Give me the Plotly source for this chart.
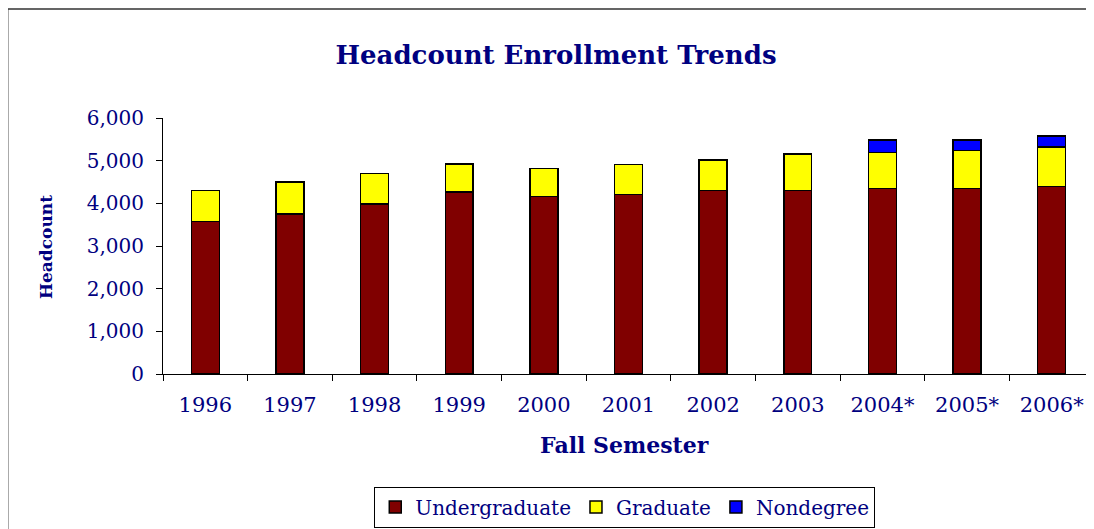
import plotly.graph_objects as go

years = ['1996', '1997', '1998', '1999', '2000', '2001', '2002', '2003', '2004*', '2005*', '2006*']
undergrad = [3570, 3750, 3985, 4265, 4165, 4210, 4305, 4305, 4345, 4345, 4400]
graduate = [730, 750, 710, 655, 655, 705, 705, 850, 845, 890, 920]
nondegree = [0, 0, 0, 0, 0, 0, 0, 0, 290, 245, 260]
y_ticks = [0, 1000, 2000, 3000, 4000, 5000, 6000]

navy = '#000080'
serif = 'DejaVu Serif'

# page body has an 8px margin, so the figure is sized to fit the window
W, H = 1086, 521
L, T, B = 155, 110, 155
PH = H - T - B  # plot height in px

fig = go.Figure()
for name, vals, color in [('Undergraduate', undergrad, '#800000'),
                          ('Graduate', graduate, '#FFFF00'),
                          ('Nondegree', nondegree, '#0000FF')]:
    fig.add_trace(go.Bar(x=years, y=vals, name=name,
                         marker=dict(color=color, line=dict(color='black', width=1.5))))

fig.update_layout(
    barmode='stack',
    bargap=0.67,
    width=W, height=H,
    autosize=False,
    margin=dict(l=L, r=0, t=T, b=B, autoexpand=False),
    plot_bgcolor='white',
    paper_bgcolor='white',
    font=dict(family=serif, color=navy),
    title=dict(text='<b>Headcount Enrollment Trends</b>', x=548/W, xanchor='center',
               y=1 - 47/H, yanchor='middle', xref='container', yref='container',
               font=dict(family=serif, size=26, color=navy)),
    xaxis=dict(showline=True, linecolor='black', linewidth=1, showgrid=False,
               ticks='outside', ticklen=6, tickcolor='black', tickson='boundaries',
               tickfont=dict(family=serif, size=21, color=navy),
               ticklabelstandoff=12),
    yaxis=dict(range=[0, 6000], tickvals=y_ticks, tickformat=',', showline=True,
               linecolor='black', linewidth=1, showgrid=False, zeroline=False,
               ticks='outside', ticklen=6, tickcolor='black',
               tickfont=dict(family=serif, size=20, color=navy),
               ticklabelstandoff=8),
    legend=dict(orientation='h', x=0.496, xanchor='center', y=-0.52, yanchor='middle',
                bordercolor='black', borderwidth=1, bgcolor='white',
                font=dict(family=serif, size=20, color=navy),
                traceorder='normal', itemwidth=30),
    showlegend=True,
)

annotations = []
annotations.append(dict(xref='paper', yref='paper', x=(39 - L) / 923, y=0.496,
                        text='<b>Headcount</b>', textangle=-90, showarrow=False,
                        xanchor='center', yanchor='middle',
                        font=dict(family=serif, size=17, color=navy)))
annotations.append(dict(xref='paper', yref='paper', x=0.496, y=(366 - 437) / PH,
                        text='<b>Fall Semester</b>', showarrow=False,
                        xanchor='center', yanchor='middle',
                        font=dict(family=serif, size=22, color=navy)))
fig.update_layout(annotations=annotations)

# outer frame (only top and left edges fall inside the page)
fig.add_shape(type='rect', xref='paper', yref='paper',
              x0=(1 - L) / 923, x1=(W + 20 - L) / 923,
              y0=(366 - 1) / PH, y1=(366 - H - 20) / PH,
              line=dict(color='#333333', width=1.5), layer='below')

fig.write_html('out.html')
